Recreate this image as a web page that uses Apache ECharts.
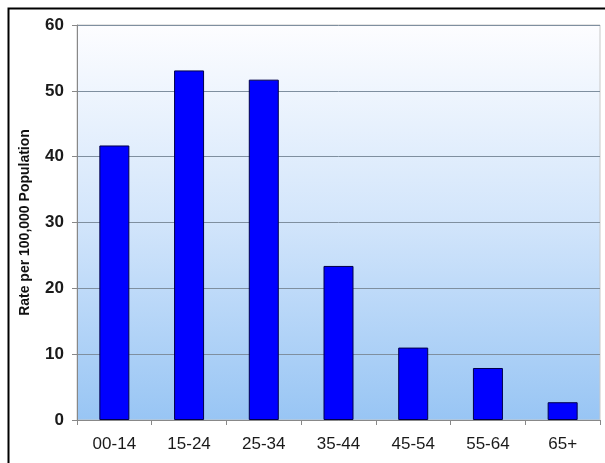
<!DOCTYPE html>
<html><head><meta charset="utf-8">
<script src="https://cdn.jsdelivr.net/npm/echarts@6/dist/echarts.min.js"></script>
<style>html,body{margin:0;padding:0;background:#fff}#c{width:605px;height:463px}</style>
</head><body><div id="c"></div>
<script>
const categories = ['00-14','15-24','25-34','35-44','45-54','55-64','65+'];
const rates = [41.7, 53.1, 51.7, 23.4, 11.0, 7.9, 2.7];
const yTicks = [0,10,20,30,40,50,60];

const chart = echarts.init(document.getElementById('c'));
chart.setOption({
  animation:false,
  graphic:[{type:'rect',z:-1,shape:{x:8.5,y:8.5,width:700,height:600},style:{fill:null,stroke:'#000',lineWidth:2}}],
  grid:{left:77,right:5,top:25,bottom:43,show:true,borderWidth:1,borderColor:'#c8c8c8',
    backgroundColor:new echarts.graphic.LinearGradient(0,0,0,1,[{offset:0,color:'#fdfdff'},{offset:0.5,color:'#d2e5fb'},{offset:1,color:'#98c5f4'}])},
  xAxis:{type:'category',data:categories,
    axisLine:{lineStyle:{color:'#888',width:1}},
    axisTick:{show:true,length:5,lineStyle:{color:'#888'}},
    axisLabel:{color:'#1a1a1a',fontFamily:'Liberation Sans, Arial',fontSize:17,margin:16}},
  yAxis:{type:'value',min:0,max:60,interval:10,
    name:'Rate per 100,000 Population',nameLocation:'middle',nameGap:45,
    nameTextStyle:{color:'#111',fontFamily:'Liberation Sans, Arial',fontSize:14,fontWeight:'bold'},
    axisLine:{show:true,lineStyle:{color:'#888'}},
    axisTick:{show:true,length:5,lineStyle:{color:'#888'}},
    axisLabel:{color:'#1a1a1a',fontFamily:'Liberation Sans, Arial',fontSize:17,fontWeight:'bold',margin:13,
      formatter:v=>yTicks.includes(v)?String(v):''},
    splitLine:{lineStyle:{color:'#7f8f9f',width:1}}},
  series:[{type:'bar',data:rates,barWidth:30,
    itemStyle:{color:'#0000ff',borderColor:'#00004a',borderWidth:1}}]
});
</script></body></html>
